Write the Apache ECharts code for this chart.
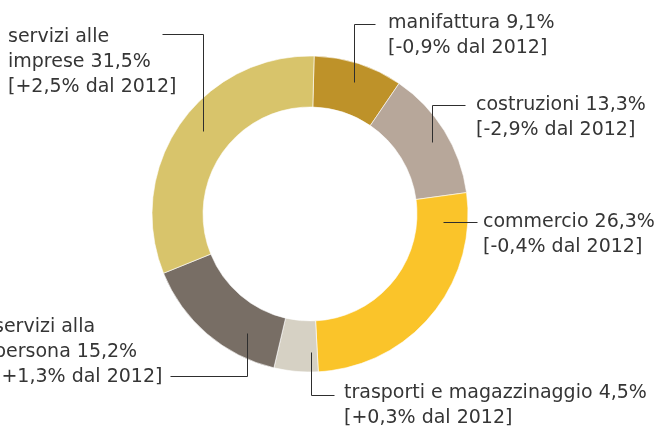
<!DOCTYPE html>
<html><head><meta charset="utf-8">
<script src="https://cdn.jsdelivr.net/npm/echarts@6/dist/echarts.min.js"></script>
<style>html,body{margin:0;padding:0;background:#fff}#c{width:657px;height:428px}</style>
</head><body><div id="c"></div>
<script>
const categories = ['manifattura','costruzioni','commercio','trasporti e magazzinaggio','servizi alla\npersona','servizi alle\nimprese'];
const shares = [9.1, 13.3, 26.3, 4.5, 15.2, 31.5];
const deltas2012 = [-0.9, -2.9, -0.4, 0.3, 1.3, 2.5];
const colors = ['#BE9229','#B7A79A','#FAC42A','#D6D1C4','#786E65','#D8C46B'];

// label placement (layout only)
const labelPos = [
  {x:388, y:11, line:[[354,82],[354,24],[375,24]]},
  {x:476, y:93, line:[[432,142],[432,105],[465,105]]},
  {x:483, y:210, line:[[443,222],[477,222]]},
  {x:344, y:381, line:[[311,352],[311,395],[334,395]]},
  {x:-6, y:315, line:[[247,333],[247,376],[170,376]]},
  {x:8, y:25, line:[[203,131],[203,34],[162,34]]}
];
const fmt = v => v.toFixed(1).replace('.', ',');
const sgn = v => (v >= 0 ? '+' : '-') + fmt(Math.abs(v));

const chart = echarts.init(document.getElementById('c'), null, {renderer:'canvas'});
chart.setOption({
  animation:false,
  color: colors,
  graphic: labelPos.map(L => ({
    type:'polyline', z:100, silent:true,
    shape:{points: L.line.map(p => [p[0] + 0.5, p[1] + 0.5])},
    style:{stroke:'#2e2e2e', lineWidth:1, fill:null}
  })),
  series:[{
    type:'pie',
    center:[310,214],
    radius:[107,158],
    startAngle:88.5,
    clockwise:true,
    avoidLabelOverlap:false,
    itemStyle:{borderColor:'#fff', borderWidth:0.6},
    label:{
      show:true, position:'outside', color:'#353535', fontFamily:'DejaVu Sans', fontSize:19, lineHeight:25, align:'left',
      formatter: p => p.name + ' ' + fmt(shares[p.dataIndex]) + '%\n[' + sgn(deltas2012[p.dataIndex]) + '% dal 2012]'
    },
    labelLine:{show:false},
    labelLayout: p => {
      const L = labelPos[p.dataIndex];
      return {x:L.x, y:L.y, align:'left', verticalAlign:'top'};
    },
    emphasis:{disabled:true},
    data: categories.map((c,i)=>({name:c, value:shares[i]}))
  }]
});
</script></body></html>
